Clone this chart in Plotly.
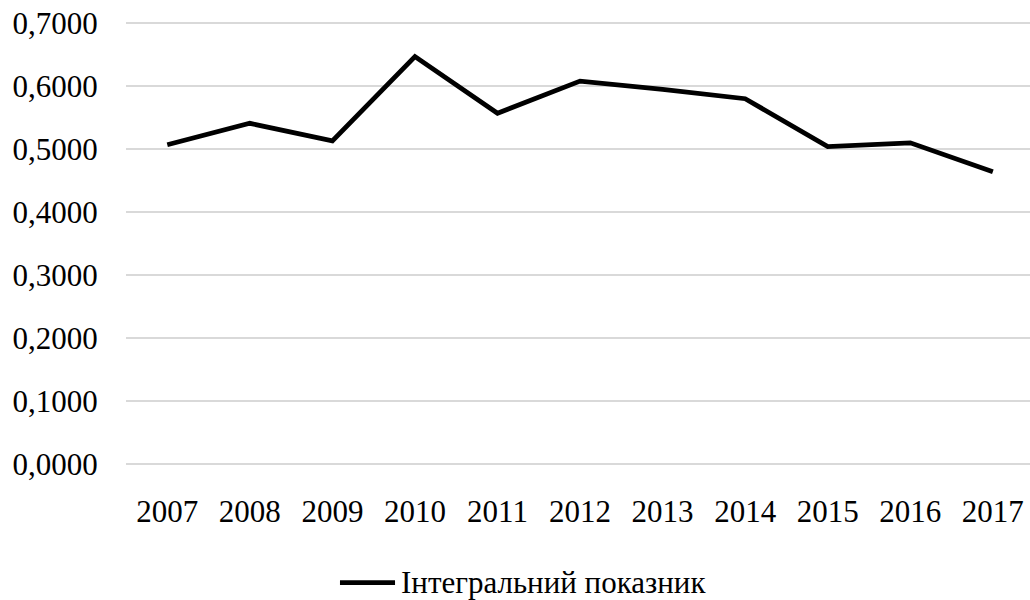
import plotly.graph_objects as go

years = ["2007", "2008", "2009", "2010", "2011", "2012", "2013", "2014", "2015", "2016", "2017"]
values = [0.507, 0.541, 0.513, 0.647, 0.557, 0.608, 0.595, 0.580, 0.504, 0.510, 0.464]
y_ticks = [0.0, 0.1, 0.2, 0.3, 0.4, 0.5, 0.6, 0.7]
series_name = "Інтегральний показник"

font_family = "Liberation Serif, Times New Roman, serif"

fig = go.Figure()
fig.add_trace(go.Scatter(
    x=list(range(len(years))),
    y=values,
    mode="lines",
    name=series_name,
    line=dict(color="#000000", width=4.8),
    showlegend=False,
))

# legend key drawn by hand so the sample line is as long as in the original
fig.add_shape(
    type="line", xref="paper", yref="paper",
    x0=0.2367, x1=0.2976, y0=-0.267, y1=-0.267,
    line=dict(color="#000000", width=4.8),
)
fig.add_annotation(
    text=series_name, xref="paper", yref="paper",
    x=0.302, y=-0.267, xanchor="left", yanchor="middle",
    showarrow=False,
    font=dict(family=font_family, size=31, color="#000000"),
)

fig.update_layout(
    width=1030,
    height=600,
    paper_bgcolor="white",
    plot_bgcolor="white",
    margin=dict(l=126, r=0, t=20, b=136),
    separators=", ",
    font=dict(family=font_family, size=31, color="#000000"),
    showlegend=False,
    xaxis=dict(
        tickmode="array",
        tickvals=list(range(len(years))),
        ticktext=years,
        range=[-0.5, 10.45],
        showgrid=False,
        zeroline=False,
        showline=False,
        ticks="outside",
        ticklen=20,
        tickcolor="rgba(0,0,0,0)",
    ),
    yaxis=dict(
        range=[0, 0.705],
        tickmode="array",
        tickvals=y_ticks,
        tickformat=".4f",
        showgrid=True,
        gridcolor="#d9d9d9",
        gridwidth=1.5,
        zeroline=True,
        zerolinecolor="#d9d9d9",
        zerolinewidth=1.5,
        showline=False,
        ticks="outside",
        ticklen=21,
        tickcolor="rgba(0,0,0,0)",
    ),
)

# drop the browser's default page margin so the chart sits at the top-left corner
fig.write_html(
    "out.html",
    config={"displayModeBar": False},
    post_script="document.body.style.margin='0';",
)
